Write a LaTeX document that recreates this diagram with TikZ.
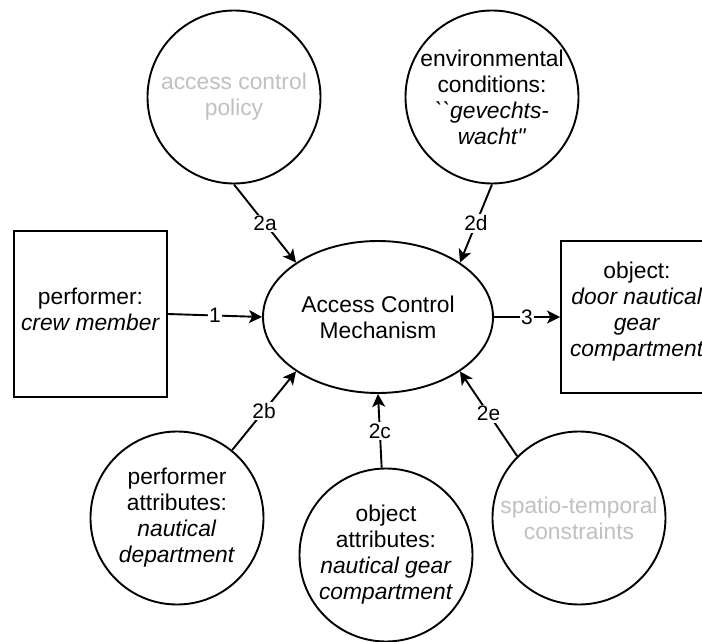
\documentclass[tikz,border=0pt]{standalone}
\usepackage{fontspec}
\setmainfont{Liberation Sans}
\usetikzlibrary{arrows.meta,shapes.geometric}
\definecolor{faint}{RGB}{192,192,192}
\tikzset{
  lbl/.style={font=\fontsize{20.9}{25}\selectfont, fill=white, inner sep=1.5pt},
  bubble/.style={circle, draw, minimum size=173pt, inner sep=0pt, align=center},
  box/.style={rectangle, draw, inner sep=0pt},
  boxtext/.style={label={[yshift=5pt, align=center]center:{#1}}},
  flow/.style={-{Stealth[length=13pt,width=13pt,inset=3.3pt]}},
}
\begin{document}
\begin{tikzpicture}[x=1pt, y=-1pt, line width=1.9pt, font=\fontsize{22.8}{26}\selectfont]
\useasboundingbox (0,0) rectangle (702,642);

% central mechanism
\node[ellipse, draw, minimum width=230pt, minimum height=152pt, inner sep=0pt, align=center]
  (acm) at (378,317) {Access Control\\Mechanism};

% performer and object boxes (the object box runs past the right margin)
\node[box, minimum width=153pt, minimum height=166pt,
      boxtext={performer:\\\textit{crew member}}] (perf) at (90.5,314) {};
\node[box, minimum width=152pt, minimum height=152pt,
      boxtext={object:\\\textit{door nautical}\\\textit{gear}\\\textit{compartment}}]
  (obj) at (637,317) {};

% context circles
\node[bubble, text=faint] (pol) at (234,97) {access control\\policy};
\node[bubble] (env) at (492,97)
  {environmental\\conditions:\\\textit{\textasciigrave\textasciigrave gevechts-}\\\textit{wacht\textquotedbl}};
\node[bubble] (patt) at (177,518)
  {performer\\attributes:\\\textit{nautical}\\\textit{department}};
\node[bubble] (oatt) at (386,555)
  {object\\attributes:\\\textit{nautical gear}\\\textit{compartment}};
\node[bubble, text=faint] (spa) at (579,518) {spatio-temporal\\constraints};

% connectors
\draw[flow] (perf.east) -- node[lbl]{1} (acm.west);
\draw[flow] (acm.east) -- node[lbl]{3} (obj.west);
\draw[flow] (pol.south) -- node[lbl]{2a} (acm.north west);
\draw[flow] (env.south) -- node[lbl]{2d} (acm.north east);
\draw[flow] (patt) -- node[lbl]{2b} (acm.south west);
\draw[flow] (oatt) -- node[lbl]{2c} (acm.south);
\draw[flow] (spa.135) -- node[lbl]{2e} (acm.south east);
\end{tikzpicture}
\end{document}
